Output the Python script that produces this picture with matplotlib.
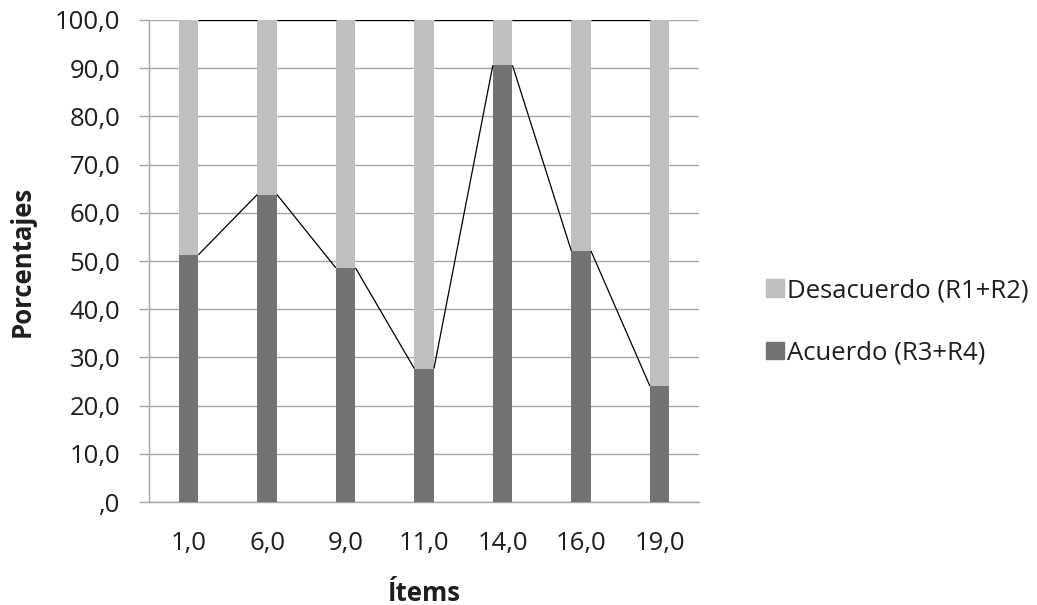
import numpy as np
import matplotlib.pyplot as plt
from matplotlib.ticker import FuncFormatter, MultipleLocator
from matplotlib.patches import Patch

# data
items = ['1,0', '6,0', '9,0', '11,0', '14,0', '16,0', '19,0']
acuerdo = [51.3, 63.8, 48.6, 27.7, 90.6, 52.1, 24.1]
desacuerdo = [100 - v for v in acuerdo]

light = '#bfbfbf'
dark = '#737373'
grid_col = '#a6a6a6'
text_col = '#1e1e1e'

plt.rcParams['font.family'] = ['Open Sans', 'DejaVu Sans']

fig = plt.figure(figsize=(10.37, 6.05), dpi=100)
ax = fig.add_axes([0.144, 0.170, 0.530, 0.797])

x = np.arange(len(items))
w = 0.25
ax.bar(x, acuerdo, w, color=dark, zorder=3)
ax.bar(x, desacuerdo, w, bottom=acuerdo, color=light, zorder=3)

# excel-style series lines between neighbouring bars
tops = [a + d for a, d in zip(acuerdo, desacuerdo)]
for level in (acuerdo, tops):
    for i in range(len(items) - 1):
        ax.plot([x[i] + w / 2, x[i + 1] - w / 2], [level[i], level[i + 1]],
                color='black', lw=0.9, zorder=4, solid_capstyle='butt')

ax.set_xlim(-0.5, len(items) - 0.5)
ax.set_ylim(0, 100)
ax.yaxis.set_major_locator(MultipleLocator(10))


def fmt(v, pos):
    s = f'{v:.1f}'.replace('.', ',')
    return s[1:] if s.startswith('0,') else s


ax.yaxis.set_major_formatter(FuncFormatter(fmt))
ax.set_xticks(x)
ax.set_xticklabels(items)

ax.grid(axis='y', color=grid_col, lw=1.0, zorder=0)
for side in ('top', 'right'):
    ax.spines[side].set_visible(False)
for side in ('left', 'bottom'):
    ax.spines[side].set_color(grid_col)
    ax.spines[side].set_linewidth(1.0)

ax.tick_params(axis='y', length=7, width=1.0, color=grid_col, pad=14,
               labelsize=18.5, labelcolor=text_col)
ax.tick_params(axis='x', length=0, pad=21, labelsize=18.5, labelcolor=text_col)

ax.set_ylabel('Porcentajes', fontsize=18.5, fontweight='bold', color=text_col, labelpad=14)
ax.set_xlabel('Ítems', fontsize=18.5, fontweight='bold', color=text_col, labelpad=17)

handles = [Patch(color=light, label='Desacuerdo (R1+R2)'),
           Patch(color=dark, label='Acuerdo (R3+R4)')]
fig.legend(handles=handles, loc='center left', bbox_to_anchor=(0.716, 0.468),
           frameon=False, fontsize=18.5, handlelength=0.7, handleheight=0.7,
           handletextpad=0.15, labelspacing=1.45, labelcolor=text_col)

fig.savefig('out.png', dpi=100)
